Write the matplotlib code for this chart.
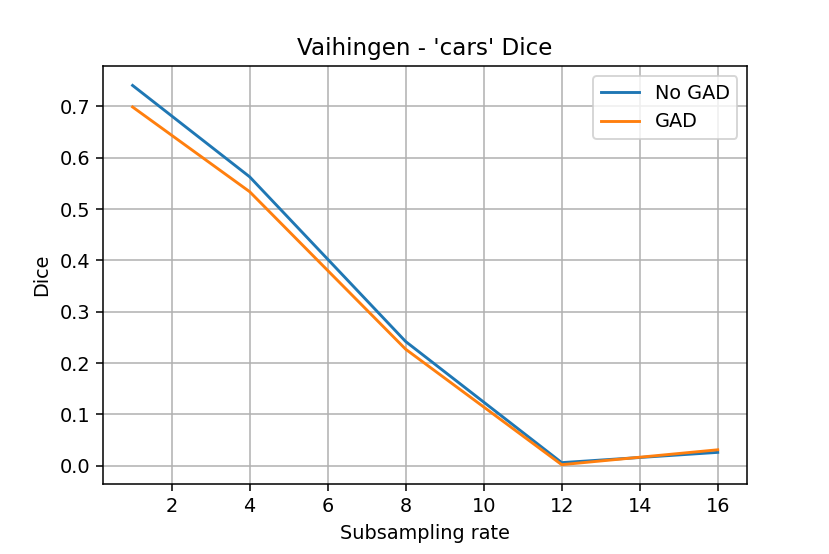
import matplotlib
matplotlib.use("Agg")
import matplotlib.pyplot as plt

rates = [1, 4, 8, 12, 16]
no_gad = [0.741, 0.563, 0.242, 0.006, 0.026]
gad = [0.699, 0.534, 0.227, 0.002, 0.031]

fig, ax = plt.subplots(figsize=(6, 4.005), dpi=138.33)
fig.subplots_adjust(left=0.1245, right=0.9, bottom=0.127, top=0.880)
ax.plot(rates, no_gad, label="No GAD")
ax.plot(rates, gad, label="GAD")
ax.set_title("Vaihingen - 'cars' Dice")
ax.set_xlabel("Subsampling rate")
ax.set_ylabel("Dice")
ax.grid(True)
ax.legend()
fig.savefig("out.png", dpi=138.33)
